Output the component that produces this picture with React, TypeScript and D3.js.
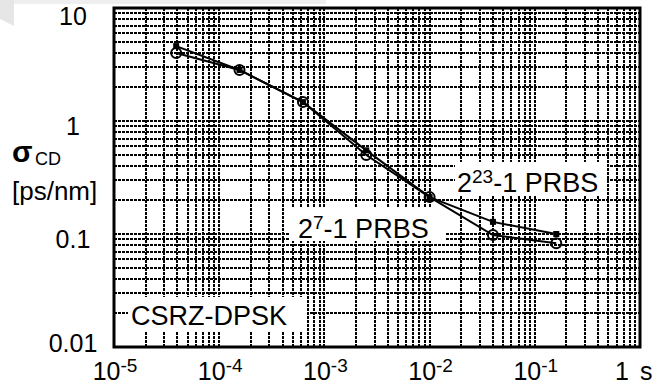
import React from "react";
import * as d3 from "d3";

// ---- data ----
const xValues = [3.9e-5, 1.56e-4, 6.25e-4, 2.5e-3, 0.01, 0.04, 0.16];
const prbs7 = [4.0, 2.83, 1.47, 0.5, 0.212, 0.098, 0.083];
const prbs23 = [4.6, 2.83, 1.47, 0.55, 0.212, 0.128, 0.1];
const xTickExps = [-5, -4, -3, -2, -1];
const yTickValues = [10, 1, 0.1, 0.01];
const yTickLabels = ["10", "1", "0.1", "0.01"];

const W = 661;
const H = 385;
const L = 114, R = 640, T = 8, B = 347;
const FONT = "'Liberation Sans', Arial, Helvetica, sans-serif";

export default function App() {
  const x = d3.scaleLog().domain([1e-5, 1]).range([L, R]);
  const y = d3.scaleLog().domain([0.01, 10]).range([B, T]);

  const xGrid: number[] = [];
  for (let e = -5; e < 0; e++) {
    for (let m = 1; m <= 9; m++) {
      const v = m * Math.pow(10, e);
      if (e === -5 && m === 1) continue;
      xGrid.push(v);
    }
  }
  const yGrid: number[] = [];
  for (let e = -2; e < 1; e++) {
    for (let m = 1; m <= 9; m++) {
      const v = m * Math.pow(10, e);
      if (e === -2 && m === 1) continue;
      yGrid.push(v);
    }
  }

  const line = d3
    .line<[number, number]>()
    .x((d) => x(d[0]))
    .y((d) => y(d[1]));

  const d7 = xValues.map((v, i) => [v, prbs7[i]] as [number, number]);
  const d23 = xValues.map((v, i) => [v, prbs23[i]] as [number, number]);

  return (
    <div style={{ position: "fixed", left: 0, top: 0, width: W, height: H, background: "#fff" }}>
      <svg width={W} height={H} style={{ display: "block" }} fontFamily={FONT}>
        <rect x={0} y={0} width={W} height={H} fill="#fff" />
        {/* faint slide decoration top-left */}
        <polygon points="0,0 14,0 14,26 0,19" fill="#e6e6e6" />
        <rect x={14} y={0} width={312} height={4} fill="#efefef" />

        {/* grid */}
        <g stroke="#000" strokeWidth={1.6} strokeDasharray="3 1" fill="none" shapeRendering="crispEdges">
          {xGrid.map((v, i) => (
            <line key={"gx" + i} x1={Math.round(x(v))} x2={Math.round(x(v))} y1={T} y2={B} />
          ))}
          {yGrid.map((v, i) => (
            <line key={"gy" + i} x1={L} x2={R} y1={Math.round(y(v))} y2={Math.round(y(v))} />
          ))}
        </g>

        {/* white label boxes */}
        <rect x={455} y={162} width={152} height={34} fill="#fff" />
        <rect x={290} y={207} width={156} height={34} fill="#fff" />
        <rect x={128} y={297} width={179} height={35} fill="#fff" />

        {/* series lines */}
        <path d={line(d23) || ""} fill="none" stroke="#000" strokeWidth={2} />
        <path d={line(d7) || ""} fill="none" stroke="#000" strokeWidth={2} />
        {d7.map((d, i) => (
          <circle key={"c" + i} cx={x(d[0])} cy={y(d[1])} r={5} fill="none" stroke="#000" strokeWidth={2} />
        ))}
        {d23.map((d, i) => (
          <rect key={"s" + i} x={x(d[0]) - 3} y={y(d[1]) - 3} width={6} height={6} fill="#000" />
        ))}

        {/* frame */}
        <rect x={L} y={T} width={R - L} height={B - T} fill="none" stroke="#000" strokeWidth={3} />

        {/* y tick labels */}
        {yTickValues.map((v, i) => (
          <text
            key={"yl" + i}
            x={73}
            y={Math.min(Math.max(y(v) + 14, T + 17), B + 5)}
            textAnchor="middle"
            fontSize={25}
            fill="#000"
          >
            {yTickLabels[i]}
          </text>
        ))}

        {/* x tick labels */}
        {xTickExps.map((e) => (
          <text key={"xl" + e} x={x(Math.pow(10, e)) + 1} y={380} textAnchor="middle" fontSize={25} fill="#000">
            10
            <tspan fontSize={19} dy={-8}>
              {String(e)}
            </tspan>
          </text>
        ))}
        <text x={x(1) - 25} y={380} fontSize={25} fill="#000">
          1
        </text>
        <text x={x(1)} y={380} fontSize={25} fill="#000">
          s
        </text>

        {/* y axis title */}
        <text x={12} y={162} fontSize={30} fontWeight="bold" fill="#000">
          σ
        </text>
        <text x={35} y={165} fontSize={18} fill="#000">
          CD
        </text>
        <text x={12} y={200} fontSize={26} fill="#000">
          [ps/nm]
        </text>

        {/* annotations */}
        <text x={457} y={192} fontSize={27} fill="#000">
          2
          <tspan fontSize={19} dy={-9}>
            23
          </tspan>
          <tspan dy={9}>-1 PRBS</tspan>
        </text>
        <text x={298} y={238} fontSize={27} fill="#000">
          2
          <tspan fontSize={19} dy={-9}>
            7
          </tspan>
          <tspan dy={9}>-1 PRBS</tspan>
        </text>
        <text x={131} y={325} fontSize={27} fill="#000">
          CSRZ-DPSK
        </text>
      </svg>
    </div>
  );
}
